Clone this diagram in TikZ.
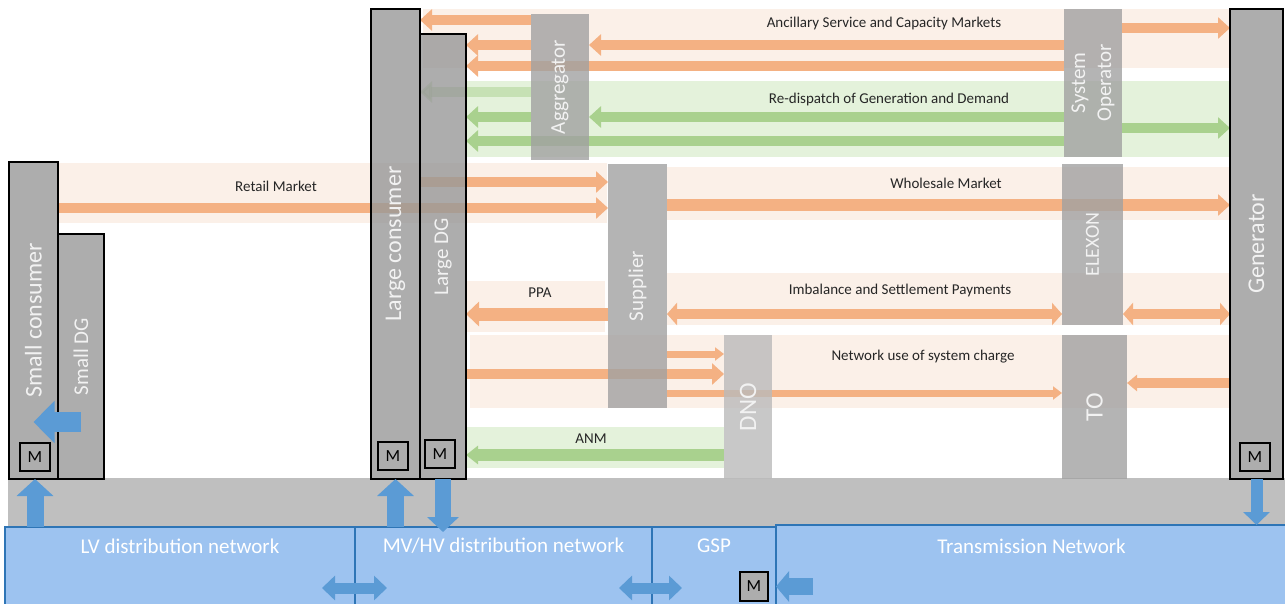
\documentclass[tikz,border=0pt]{standalone}
\usepackage{fontspec}
\setmainfont{Carlito}
\usetikzlibrary{arrows.meta, calc}

\begin{document}
\begin{tikzpicture}[x=1pt, y=-1pt,
    slot/.style={anchor=north west, inner sep=0pt, outer sep=0pt},
    bigbox/.style={slot, draw=black, line width=1.6pt, fill=boxGrey, fill opacity=0.8, draw opacity=1},
    mktbox/.style={slot, fill=mktGrey, fill opacity=0.8},
    meter/.style={slot, draw=black, line width=1.4pt, fill=meterGrey, font=\fontsize{17}{19}\selectfont},
    boxtext/.style={rotate=90, text=boxText, text opacity=1, fill opacity=1, inner sep=0pt, align=center, font=\fontsize{21}{26}\selectfont},
    bigtext/.style={boxtext, font=\fontsize{24}{28}\selectfont},
    netbox/.style={slot, draw=netBorder, line width=1.5pt, fill=netBlue},
    nettext/.style={text=white, inner sep=0pt, font=\fontsize{21}{24}\selectfont},
    bandtext/.style={anchor=base, text=bandText, inner sep=0pt, font=\fontsize{15}{18}\selectfont},
    oarr/.style={draw=arrOrange, line width=10pt, -{Triangle[length=12pt,width=21pt]}},
    othin/.style={draw=arrOrange, line width=7pt, -{Triangle[length=9pt,width=13pt]}},
    odarr/.style={draw=arrOrange, line width=10pt, {Triangle[length=10pt,width=22pt]}-{Triangle[length=10pt,width=22pt]}},
    garr/.style={draw=arrGreen, line width=10pt, -{Triangle[length=12pt,width=21pt]}},
    barr/.style={draw=arrBlue, line width=17pt, -{Triangle[length=17pt,width=36pt]}},
    bdarr/.style={draw=arrBlue, line width=11pt, {Triangle[length=13pt,width=24pt]}-{Triangle[length=13pt,width=24pt]}}]

    % Define colours
    \definecolor{boxGrey}{HTML}{989898}
    \definecolor{mktGrey}{HTML}{A1A1A1}
    \definecolor{dnoGrey}{HTML}{BABABA}
    \definecolor{meterGrey}{HTML}{ADADAD}
    \definecolor{barGrey}{HTML}{BFBFBF}
    \definecolor{boxText}{HTML}{F2F2F2}
    \definecolor{bandText}{HTML}{262626}
    \definecolor{bandOrange}{HTML}{FBF0E8}
    \definecolor{bandGreen}{HTML}{E4F2DB}
    \definecolor{arrOrange}{HTML}{F4B183}
    \definecolor{arrGreen}{HTML}{A9D18E}
    \definecolor{arrBlue}{HTML}{5B9BD5}
    \definecolor{netBlue}{HTML}{9DC3F0}
    \definecolor{netBorder}{HTML}{2E75B6}

    % Fix the canvas
    \useasboundingbox (0,0) rectangle (1285,603);
    \clip (0,0) rectangle (1285,603);

    % Draw market bands
    \fill[bandOrange] (423,9) rectangle (1230,68);
    \fill[bandGreen] (466,81) rectangle (1230,157);
    \fill[bandOrange] (58,163) rectangle (607,223);
    \fill[bandOrange] (667,167) rectangle (1230,220);
    \fill[bandOrange] (466,281) rectangle (605,332);
    \fill[bandOrange] (667,273) rectangle (1230,325);
    \fill[bandOrange] (470,335) rectangle (1230,408);
    \fill[bandGreen] (466,427) rectangle (724,468);

    % Draw connection bar
    \fill[barGrey] (8,478) rectangle (1285,527);

    % Draw network areas
    \node[netbox, minimum width=350pt, minimum height=80pt] (lvnet) at (5,527) {};
    \node[netbox, minimum width=297pt, minimum height=80pt] (mvnet) at (355,527) {};
    \node[netbox, minimum width=124pt, minimum height=80pt] (gsp) at (652,527) {};
    \node[netbox, minimum width=511pt, minimum height=82pt] (trans) at (776,525) {};
    \node[nettext] (lvtxt) at (lvnet.north |- 0,546) {LV distribution network};
    \node[nettext] (mvtxt) at (mvnet.north |- 0,546) {MV/HV distribution network};
    \node[nettext] (gsptxt) at (gsp.north |- 0,546) {GSP};
    \node[nettext] (transtxt) at (trans.north |- 0,546) {Transmission Network};

    % Place market parties
    \node[slot, minimum width=58pt, minimum height=146pt] (agg) at (531,14) {};
    \node[slot, minimum width=58pt, minimum height=148pt] (so) at (1064,9) {};
    \node[slot, minimum width=61pt, minimum height=161pt] (elexon) at (1062,164) {};
    \node[slot, minimum width=65pt, minimum height=144pt] (to) at (1062,335) {};
    \node[slot, minimum width=59pt, minimum height=244pt] (sup) at (608,164) {};
    \node[slot, minimum width=48pt, minimum height=144pt] (dno) at (724,335) {};

    % Place consumers and generators
    \node[slot, minimum width=49pt, minimum height=317pt] (scons) at (9,162) {};
    \node[slot, minimum width=46pt, minimum height=245pt] (sdg) at (58,234) {};
    \node[slot, minimum width=49pt, minimum height=470pt] (lcons) at (371,9) {};
    \node[slot, minimum width=46pt, minimum height=445pt] (ldg) at (420,34) {};
    \node[slot, minimum width=53pt, minimum height=470pt] (gen) at (1230,9) {};

    % Draw ancillary service arrows
    \draw[oarr] (agg.west |- 0,20) -- (lcons.east |- 0,20);
    \draw[oarr] (agg.west |- 0,45) -- (ldg.east |- 0,45);
    \draw[oarr] (so.west |- 0,45) -- (agg.east |- 0,45);
    \draw[oarr] (so.west |- 0,66) -- (ldg.east |- 0,66);
    \draw[oarr] (so.east |- 0,28) -- (gen.west |- 0,28);

    % Draw re-dispatch arrows
    \draw[garr, opacity=0.5] (agg.west |- 0,92) -- (lcons.east |- 0,92);
    \draw[garr] (agg.west |- 0,117) -- (ldg.east |- 0,117);
    \draw[garr] (so.west |- 0,117) -- (agg.east |- 0,117);
    \draw[garr] (so.west |- 0,141) -- (ldg.east |- 0,141);
    \draw[garr] (so.east |- 0,128) -- (gen.west |- 0,128);

    % Draw retail and wholesale arrows
    \draw[oarr] (scons.east |- 0,208) -- (sup.west |- 0,208);
    \draw[oarr] (ldg.west |- 0,182) -- (sup.west |- 0,182);
    \draw[oarr, line width=12pt] (sup.east |- 0,205) -- (gen.west |- 0,205);

    % Draw PPA and settlement arrows
    \draw[oarr, line width=13pt, -{Triangle[length=13pt,width=24pt]}] (sup.west |- 0,314) -- (ldg.east |- 0,314);
    \draw[odarr] (sup.east |- 0,314) -- (elexon.west |- 0,314);
    \draw[odarr] (elexon.east |- 0,314) -- (gen.west |- 0,314);

    % Draw network charge arrows
    \draw[othin] (sup.east |- 0,354) -- (dno.west |- 0,354);
    \draw[oarr] (ldg.east |- 0,374) -- (dno.west |- 0,374);
    \draw[othin] (sup.east |- 0,393) -- (to.west |- 0,393);
    \draw[oarr, -{Triangle[length=10pt,width=16pt]}] (gen.west |- 0,383) -- (to.east |- 0,383);

    % Draw ANM arrow
    \draw[garr, line width=12pt, -{Triangle[length=12pt,width=18pt]}] (dno.west |- 0,455) -- (ldg.east |- 0,455);

    % Fill market parties over the arrows
    \node[mktbox, minimum width=58pt, minimum height=146pt, label={[boxtext]center:Aggregator}] (aggbox) at (agg.north west) {};
    \node[mktbox, minimum width=58pt, minimum height=148pt, label={[boxtext]center:System\\Operator}] (sobox) at (so.north west) {};
    \node[mktbox, minimum width=61pt, minimum height=161pt, label={[boxtext, font=\fontsize{20}{24}\selectfont]center:ELEXON}] (elexonbox) at (elexon.north west) {};
    \node[mktbox, minimum width=65pt, minimum height=144pt, label={[boxtext, font=\fontsize{25}{28}\selectfont]center:TO}] (tobox) at (to.north west) {};
    \node[mktbox, minimum width=59pt, minimum height=244pt, label={[boxtext]center:Supplier}] (supbox) at (sup.north west) {};
    \node[mktbox, fill=dnoGrey, minimum width=48pt, minimum height=144pt, label={[boxtext, font=\fontsize{25}{28}\selectfont]center:DNO}] (dnobox) at (dno.north west) {};

    % Fill consumers and generators over the arrows
    \node[bigbox, minimum width=49pt, minimum height=317pt, label={[bigtext]center:Small consumer}] (sconsbox) at (scons.north west) {};
    \node[bigbox, minimum width=46pt, minimum height=245pt, label={[boxtext]center:Small DG}] (sdgbox) at (sdg.north west) {};
    \node[bigbox, minimum width=49pt, minimum height=470pt, label={[bigtext]center:Large consumer}] (lconsbox) at (lcons.north west) {};
    \node[bigbox, minimum width=46pt, minimum height=445pt, label={[boxtext]center:Large DG}] (ldgbox) at (ldg.north west) {};
    \node[bigbox, minimum width=53pt, minimum height=470pt, label={[bigtext]center:Generator}] (genbox) at (gen.north west) {};

    % Draw band labels
    \node[bandtext] (ancl) at (884,27) {Ancillary Service and Capacity Markets};
    \node[bandtext] (redl) at (889,103) {Re-dispatch of Generation and Demand};
    \node[bandtext] (retl) at (276,191) {Retail Market};
    \node[bandtext] (whol) at (946,188) {Wholesale Market};
    \node[bandtext] (ppal) at (540,297) {PPA};
    \node[bandtext] (imbl) at (900,294) {Imbalance and Settlement Payments};
    \node[bandtext] (nusl) at (923,360) {Network use of system charge};
    \node[bandtext] (anml) at (591,443) {ANM};

    % Draw meters
    \node[meter, minimum width=30pt, minimum height=28pt] (smeter) at (20,443) {M};
    \node[meter, minimum width=30pt, minimum height=28pt] (lcmeter) at (378,442) {M};
    \node[meter, minimum width=30pt, minimum height=28pt] (ldmeter) at (425,440) {M};
    \node[meter, minimum width=30pt, minimum height=28pt] (gmeter) at (1240,443) {M};
    \node[meter, minimum width=28pt, minimum height=29pt] (gspmeter) at (740,572) {M};

    % Draw power flows
    \draw[barr, line width=20pt, -{Triangle[length=21pt,width=41pt]}] (sdg.center |- 0,422) -- (scons.center |- 0,422);
    \draw[barr] (lvnet.north -| smeter.south) -- (scons.south -| smeter.south);
    \draw[barr] (mvnet.north -| lcons.south) -- (lcons.south);
    \draw[barr, line width=16pt, -{Triangle[length=15pt,width=31pt]}] (ldg.south) -- ($(mvnet.north -| ldg.south)+(0,5)$);
    \draw[barr, line width=12pt, -{Triangle[length=13pt,width=26pt]}] (gen.south) -- (trans.north -| gen.south);
    \draw[bdarr] ($(lvnet.east |- 0,588)+(-33,0)$) -- ($(lvnet.east |- 0,588)+(32,0)$);
    \draw[bdarr] ($(mvnet.east |- 0,588)+(-33,0)$) -- ($(mvnet.east |- 0,588)+(30,0)$);
    \draw[barr, -{Triangle[length=13pt,width=30pt]}] ($(trans.west |- gspmeter.east)+(37,0)$) -- (trans.west |- gspmeter.east);

\end{tikzpicture}
\end{document}
